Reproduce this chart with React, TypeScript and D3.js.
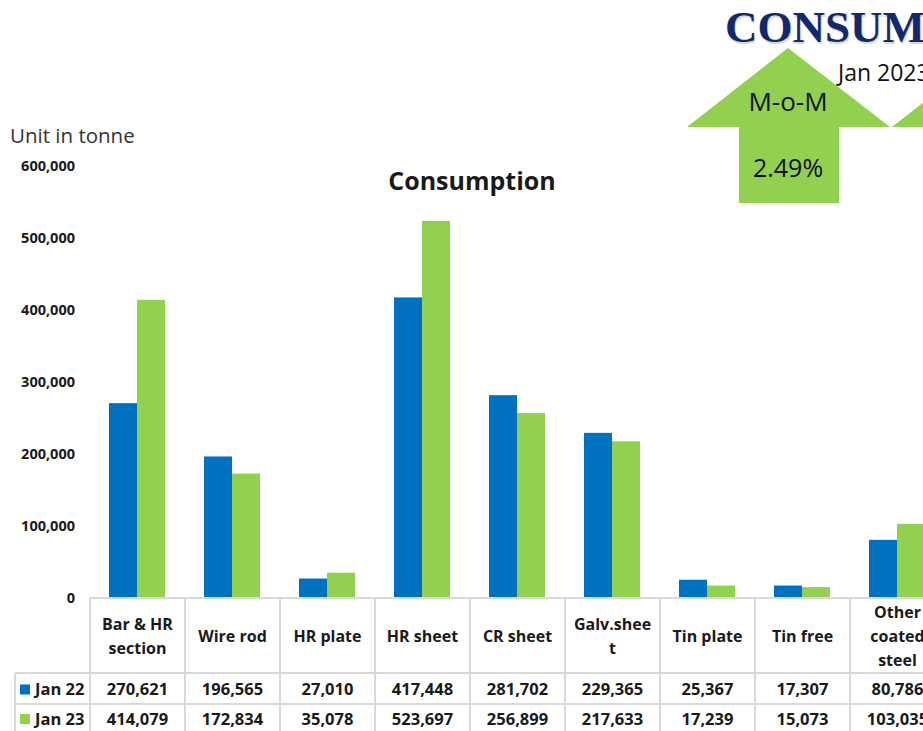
import React, { useEffect, useRef } from "react";
import * as d3 from "d3";

const categories = [
  ["Bar & HR", "section"],
  ["Wire rod"],
  ["HR plate"],
  ["HR sheet"],
  ["CR sheet"],
  ["Galv.shee", "t"],
  ["Tin plate"],
  ["Tin free"],
  ["Other", "coated", "steel"],
];
const seriesNames = ["Jan 22", "Jan 23"];
const jan22 = [270621, 196565, 27010, 417448, 281702, 229365, 25367, 17307, 80786];
const jan23 = [414079, 172834, 35078, 523697, 256899, 217633, 17239, 15073, 103035];
const yTicks = [0, 100000, 200000, 300000, 400000, 500000, 600000];
const colors = ["#0070c0", "#92d050"];

const W = 923;
const H = 731;

export default function App() {
  const ref = useRef<SVGSVGElement>(null);

  useEffect(() => {
    const svg = d3.select(ref.current);
    svg.selectAll("*").remove();

    const keys = categories.map((_, i) => String(i));
    const x = d3.scaleBand().domain(keys).range([90, 90 + 95 * keys.length]);
    const xs = d3.scaleBand().domain(seriesNames).range([19, 75]);
    const y = d3.scaleLinear().domain([0, 600000]).range([598, 166]);
    const fmt = d3.format(",");
    const font = "'Open Sans', sans-serif";

    // y axis labels
    svg
      .append("g")
      .selectAll("text")
      .data(yTicks)
      .join("text")
      .attr("x", 75)
      .attr("y", (d) => y(d))
      .attr("dy", "0.35em")
      .attr("text-anchor", "end")
      .attr("font-family", font)
      .attr("font-weight", "bold")
      .attr("font-size", 14.5)
      .attr("fill", "#1a1a1a")
      .text((d) => fmt(d));

    // bars
    const data = [jan22, jan23];
    data.forEach((vals, s) => {
      svg
        .append("g")
        .selectAll("rect")
        .data(vals)
        .join("rect")
        .attr("x", (_, i) => x(String(i))! + xs(seriesNames[s])!)
        .attr("y", (d) => y(d))
        .attr("width", xs.bandwidth())
        .attr("height", (d) => y(0) - y(d))
        .attr("fill", colors[s]);
    });

    // table
    const grid = "#d9d9d9";
    const tableTop = 598;
    const row1 = 673;
    const row2 = 704;
    const row3 = 736;
    const t = svg.append("g");
    const right = x.range()[1];
    t.append("line").attr("x1", 90).attr("x2", right).attr("y1", tableTop).attr("y2", tableTop).attr("stroke", grid).attr("stroke-width", 2);
    [row1, row2, row3].forEach((yy) =>
      t.append("line").attr("x1", 15).attr("x2", right).attr("y1", yy).attr("y2", yy).attr("stroke", grid).attr("stroke-width", 2)
    );
    t.append("line").attr("x1", 15).attr("x2", 15).attr("y1", row1).attr("y2", row3).attr("stroke", grid).attr("stroke-width", 2);
    keys.concat([String(keys.length)]).forEach((k, i) => {
      const xx = 90 + i * x.step();
      t.append("line").attr("x1", xx).attr("x2", xx).attr("y1", tableTop).attr("y2", row3).attr("stroke", grid).attr("stroke-width", 2);
    });

    // header labels
    categories.forEach((lines, i) => {
      const cx = x(String(i))! + x.bandwidth() / 2;
      const lh = 24;
      const start = 636 - ((lines.length - 1) * lh) / 2;
      lines.forEach((ln, j) => {
        t.append("text")
          .attr("x", cx)
          .attr("y", start + j * lh)
          .attr("dy", "0.35em")
          .attr("text-anchor", "middle")
          .attr("font-family", font)
          .attr("font-weight", "bold")
          .attr("font-size", 16)
          .attr("fill", "#1a1a1a")
          .text(ln);
      });
    });

    // data rows
    const rowsY = [(row1 + row2) / 2 + 1, (row2 + row3) / 2 - 1];
    data.forEach((vals, s) => {
      t.append("rect").attr("x", 20).attr("y", rowsY[s] - 5).attr("width", 10).attr("height", 10).attr("fill", colors[s]);
      t.append("text")
        .attr("x", 35)
        .attr("y", rowsY[s])
        .attr("dy", "0.35em")
        .attr("font-family", font)
        .attr("font-weight", "bold")
        .attr("font-size", 16.5)
        .attr("fill", "#1a1a1a")
        .text(seriesNames[s]);
      vals.forEach((v, i) => {
        t.append("text")
          .attr("x", x(String(i))! + x.bandwidth() / 2)
          .attr("y", rowsY[s])
          .attr("dy", "0.35em")
          .attr("text-anchor", "middle")
          .attr("font-family", font)
          .attr("font-weight", "bold")
          .attr("font-size", 16.5)
          .attr("fill", "#1a1a1a")
          .text(fmt(v));
      });
    });

    // title + unit
    svg.append("text").attr("x", 472).attr("y", 190).attr("text-anchor", "middle")
      .attr("font-family", font).attr("font-weight", "bold").attr("font-size", 25).attr("fill", "#1a1a1a")
      .text("Consumption");
    svg.append("text").attr("x", 10).attr("y", 143)
      .attr("font-family", font).attr("font-size", 20.5).attr("fill", "#333")
      .text("Unit in tonne");

    // arrows
    const arrow = (ox: number) =>
      d3.line()([
        [ox, 48], [ox + 102, 127], [ox + 51, 127], [ox + 51, 203],
        [ox - 49, 203], [ox - 49, 127], [ox - 101, 127],
      ]) + "Z";
    svg.append("path").attr("d", arrow(788)).attr("fill", "#92d050");
    svg.append("path").attr("d", arrow(993)).attr("fill", "#92d050");
    svg.append("text").attr("x", 788).attr("y", 111).attr("text-anchor", "middle")
      .attr("font-family", font).attr("font-size", 26).attr("fill", "#111").text("M-o-M");
    svg.append("text").attr("x", 788).attr("y", 177).attr("text-anchor", "middle")
      .attr("font-family", font).attr("font-size", 25).attr("fill", "#111").text("2.49%");

    // header banner
    svg.append("text").attr("x", 726).attr("y", 43.5)
      .attr("font-family", "'Liberation Serif', serif").attr("font-weight", "bold").attr("font-size", 45)
      .attr("fill", "#d5d8e0").text("CONSUMPTION");
    svg.append("text").attr("x", 725).attr("y", 42)
      .attr("font-family", "'Liberation Serif', serif").attr("font-weight", "bold").attr("font-size", 45)
      .attr("fill", "#13296b").text("CONSUMPTION");
    svg.append("text").attr("x", 838).attr("y", 81)
      .attr("font-family", font).attr("font-size", 23).attr("fill", "#111").text("Jan 2023");
  }, []);

  return (
    <svg
      ref={ref}
      width={W}
      height={H}
      style={{ position: "absolute", left: 0, top: 0, background: "#fff" }}
    />
  );
}
